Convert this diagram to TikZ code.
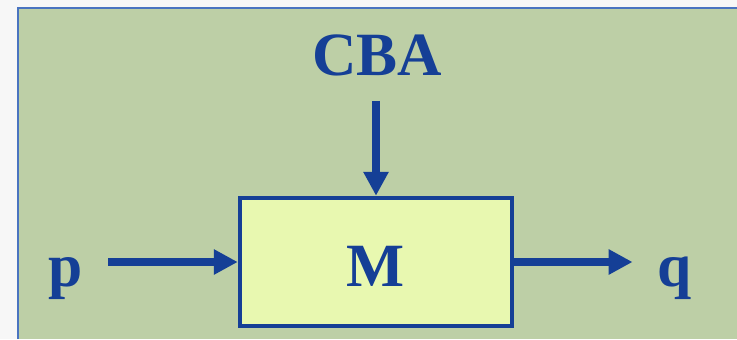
\documentclass[tikz,border=0pt]{standalone}
\usepackage{fontspec}
\setmainfont{Liberation Serif}
\usetikzlibrary{arrows.meta}

\definecolor{pagegray}{HTML}{F7F7F7}
\definecolor{panelgreen}{HTML}{BDCFA6}
\definecolor{panelline}{HTML}{4A74C0}
\definecolor{boxfill}{HTML}{E8F8B0}
\definecolor{inkblue}{HTML}{153F96}

\tikzset{
  lbl/.style={text=inkblue, font=\fontsize{35}{40}\selectfont\bfseries, inner sep=0pt, anchor=base},
  flow/.style={draw=inkblue, line width=4pt, -{Triangle[length=13.6pt,width=13.6pt]}},
}

\begin{document}
\begin{tikzpicture}[x=0.02cm, y=-0.02cm]

\useasboundingbox (0,0) rectangle (737,339);
\fill[pagegray] (0,0) rectangle (737,339);

\fill[panelgreen] (18,8) rectangle (737,339);
\draw[panelline, line width=1.3pt] (18,339) -- (18,8) -- (737,8);

\node[draw=inkblue, line width=2.6pt, fill=boxfill, minimum width=5.44cm, minimum height=2.56cm, inner sep=0pt] (box) at (376,262) {};
\node[lbl] (m) at (376,286) {M};

\node[lbl] (cba) at (377,75) {CBA};
\node[lbl] (p) at (66,286) {p};
\node[lbl] (q) at (675,286) {q};

\draw[flow, shorten <=0.5cm] (cba.south -| box.north) -- (box.north);
\draw[flow, shorten <=0.5cm] (p.east |- box.west) -- (box.west);
\draw[flow, shorten >=0.5cm] (box.east) -- (q.west |- box.east);

\end{tikzpicture}
\end{document}
